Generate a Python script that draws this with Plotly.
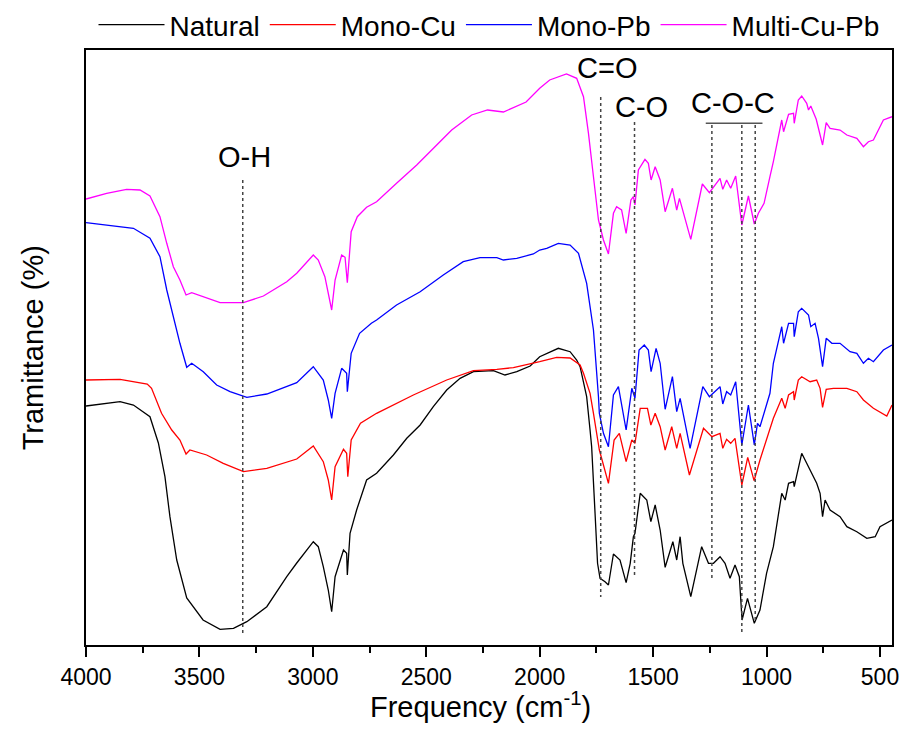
import plotly.graph_objects as go

FONT = "Liberation Sans, Arial, sans-serif"

# ---------------- data (wavenumber cm-1, transmittance in arbitrary offset units) -------------
nat_w = [4000, 3850, 3791, 3718, 3681, 3652, 3630, 3600, 3556, 3527, 3484, 3409, 3350, 3291, 3203,
         3115, 3071, 2998, 2976, 2954, 2932, 2917, 2902, 2865, 2851, 2848, 2836, 2807, 2763, 2719,
         2645, 2586, 2527, 2469, 2410, 2351, 2292, 2204, 2153, 2101, 2042, 2000, 1969, 1918, 1866,
         1837, 1822, 1807, 1793, 1778, 1771, 1756, 1745, 1734, 1712, 1697, 1675, 1646, 1619, 1601,
         1587, 1580, 1557, 1528, 1510, 1491, 1469, 1447, 1413, 1396, 1381, 1369, 1334, 1286, 1256,
         1234, 1205, 1183, 1161, 1139, 1120, 1108, 1084, 1054, 1029, 1000, 970, 933, 918, 903,
         881, 878, 845, 823, 800, 779, 764, 753, 742, 720, 676, 646, 602, 558, 521, 500, 447]
nat_t = [239, 243.3, 240, 228.3, 202, 168.3, 128.3, 85, 47, 38.3, 25, 15.7, 16.7, 23.3, 38.3,
         68.3, 82, 103.3, 98.3, 78.3, 55, 33.3, 68.3, 95, 91.7, 70, 111.7, 135, 165, 171.7,
         190, 206.7, 220, 238.3, 255, 266.7, 273.3, 274.3, 270, 273.3, 279, 288.3, 291.7, 296.7, 293.3,
         285, 278.3, 261.7, 248.3, 215, 198.3, 131.7, 81.7, 66.7, 63.3, 60, 91, 85, 62.3, 81.7,
         108.3, 111.7, 151.7, 145, 123.3, 140, 115, 77.7, 103.3, 85, 108.3, 81.7, 48.3, 98.3, 81.7,
         81.7, 88.3, 81.7, 66.7, 80, 68.3, 25, 46.7, 21.7, 35, 71.7, 98.3, 151.7, 145, 161.7,
         163.3, 158.3, 191.7, 181.7, 171.7, 161.7, 151.7, 128.3, 145, 135, 128.3, 118.3, 113.3, 106.7, 108.3, 118.3, 125]

cu_w = [4000, 3850, 3730, 3711, 3667, 3622, 3586, 3559, 3542, 3468, 3395, 3306, 3203, 3115, 3071,
        2998, 2976, 2954, 2932, 2917, 2902, 2865, 2851, 2846, 2831, 2790, 2719, 2557, 2410, 2292,
        2189, 2116, 2000, 1925, 1866, 1822, 1807, 1778, 1763, 1737, 1697, 1672, 1649, 1619, 1594,
        1580, 1557, 1525, 1510, 1491, 1469, 1447, 1418, 1396, 1381, 1340, 1278, 1241, 1205, 1193,
        1176, 1158, 1139, 1109, 1083, 1055, 1029, 985, 970, 933, 918, 903, 881, 878, 860,
        845, 808, 779, 764, 753, 737, 705, 646, 602, 573, 529, 470, 447]
cu_t = [265, 265.7, 261, 256.7, 231.7, 215, 205, 191, 195, 190, 181.7, 173.3, 176.7, 183.3, 186,
        199, 191.7, 183.3, 165, 145, 178.3, 195.7, 191.7, 168.3, 205, 221.7, 231.7, 250, 265, 274.3,
        275.7, 277.3, 283.3, 287.7, 287, 280, 271.7, 251.7, 231.7, 195, 161.7, 205, 211.7, 183.3, 205,
        201.7, 236.7, 236.7, 220, 231.7, 218.3, 195, 218.3, 196.7, 211.7, 170, 216.7, 208.3, 211.7, 196.7,
        205.7, 201.7, 206.7, 160, 187.7, 164.3, 185, 215, 226.7, 246.7, 236.7, 250, 253.3, 245, 265,
        268.3, 263.3, 265, 256.7, 237.7, 255.7, 256.7, 256.7, 253.3, 245, 236.7, 229, 240]

pb_w = [4000, 3880, 3791, 3718, 3674, 3644, 3615, 3586, 3556, 3534, 3483, 3424, 3365, 3291, 3203,
        3115, 3071, 2998, 2954, 2932, 2917, 2902, 2873, 2851, 2848, 2831, 2794, 2742, 2719, 2631,
        2527, 2425, 2337, 2263, 2189, 2160, 2101, 2028, 2000, 1969, 1918, 1866, 1829, 1793, 1763,
        1741, 1737, 1719, 1697, 1675, 1653, 1619, 1594, 1580, 1562, 1539, 1521, 1509, 1487, 1469,
        1447, 1415, 1396, 1381, 1337, 1281, 1252, 1205, 1193, 1176, 1158, 1136, 1109, 1080, 1054,
        1040, 1029, 985, 970, 933, 925, 903, 881, 878, 860, 845, 815, 805, 786, 771,
        753, 737, 712, 676, 632, 602, 573, 551, 529, 485, 447]
pb_t = [422.3, 419.3, 416.7, 406.7, 388.3, 355, 328.3, 301.7, 277.7, 281.7, 273.3, 260, 253.3, 247.7, 251,
        258.3, 262.3, 278.3, 265, 245, 226.7, 251.7, 276.7, 271.7, 253.3, 291.7, 311.7, 321.7, 325, 340,
        353.3, 370, 383.3, 387.3, 387.3, 385, 386.7, 391, 395, 396.7, 401.7, 400, 391.7, 361.7, 315,
        248.3, 231.7, 211.7, 198.3, 250, 258.3, 215, 256.7, 246.7, 295, 300, 295, 273.3, 296.7, 281.7,
        235.7, 268.3, 233.3, 246.7, 196.7, 258.3, 248.3, 258.3, 241, 253.3, 250, 263.3, 200, 240, 200,
        221.7, 218.3, 251.7, 281.7, 318.3, 301.7, 321.7, 321.7, 308.3, 333.3, 336.7, 330, 318.3, 321.7, 306.7,
        278.3, 306.7, 301.7, 301.7, 293.3, 291.7, 281.7, 286.7, 283.3, 295, 300]

mix_w = [4000, 3909, 3821, 3762, 3718, 3674, 3644, 3615, 3586, 3559, 3534, 3468, 3409, 3306, 3218,
         3115, 3071, 2998, 2976, 2947, 2917, 2902, 2873, 2858, 2848, 2831, 2804, 2763, 2719, 2631,
         2542, 2454, 2388, 2300, 2230, 2160, 2130, 2060, 2000, 1956, 1882, 1837, 1807, 1785, 1763,
         1741, 1719, 1697, 1675, 1661, 1639, 1619, 1598, 1587, 1580, 1565, 1536, 1521, 1509, 1491,
         1469, 1447, 1415, 1396, 1384, 1334, 1283, 1252, 1205, 1193, 1176, 1158, 1136, 1109, 1080,
         1054, 1036, 1011, 985, 970, 933, 925, 903, 881, 878, 860, 845, 823, 815, 805,
         781, 771, 753, 737, 720, 676, 646, 602, 573, 551, 529, 485, 447]
mix_t = [446, 451.7, 455.7, 455, 449, 428.3, 401.7, 378.3, 365, 350, 352.3, 346.7, 342.3, 342.3, 349,
         363.3, 371.7, 390, 385, 368.3, 335, 365, 390, 387.7, 362.3, 413.3, 428.3, 437.7, 443.3, 461.7,
         480, 500, 515, 530, 535, 533, 536, 543, 556.7, 565, 571, 566.7, 548.3, 511.7, 468.3,
         425, 405, 391, 431.7, 438.3, 435, 411.7, 445, 448.3, 440, 475, 485.7, 481.7, 465, 478.3,
         465, 433.3, 456.7, 435, 446.7, 405.7, 461, 452.3, 466.7, 455.7, 465, 456.7, 469, 420, 449,
         421, 431.7, 441.7, 468.3, 483.3, 525, 513.3, 530.7, 531.7, 521.7, 545, 549, 541.7, 535, 539,
         525.7, 516.7, 500, 522.3, 516.7, 515, 510, 506.7, 498.3, 503.3, 505, 525, 528.3]

series_names = ["Natural", "Mono-Cu", "Mono-Pb", "Multi-Cu-Pb"]
series_colors = ["#000000", "#ff0000", "#0000ff", "#ff00ff"]
series_w = [nat_w, cu_w, pb_w, mix_w]
series_t = [nat_t, cu_t, pb_t, mix_t]

# band markers
band_lines = [(3309, 465, 12), (1731, 548, 48), (1582, 523, 68),
              (1241, 520, 65), (1109, 520, 12), (1050, 520, 22)]
band_labels = [("O-H", 3300, 488), ("C=O", 1705, 577), ("C-O", 1550, 538), ("C-O-C", 1150, 542)]
coc_bar = (1268, 1018, 521.7)

x_ticks = [4000, 3500, 3000, 2500, 2000, 1500, 1000, 500]

fig = go.Figure()
for n, c, w, t in zip(series_names, series_colors, series_w, series_t):
    fig.add_trace(go.Scatter(x=w, y=t, mode="lines", name=n,
                             line=dict(color=c, width=1.3)))

shapes = []
for xw, y0, y1 in band_lines:
    shapes.append(dict(type="line", xref="x", yref="y", x0=xw, x1=xw, y0=y0, y1=y1,
                       line=dict(color="#444444", width=1.5, dash="dot")))
shapes.append(dict(type="line", xref="x", yref="y", x0=coc_bar[0], x1=coc_bar[1],
                   y0=coc_bar[2], y1=coc_bar[2], line=dict(color="#555555", width=1.5)))

annotations = []
for txt, xw, yv in band_labels:
    annotations.append(dict(text=txt, x=xw, y=yv, xref="x", yref="y", showarrow=False,
                            font=dict(family=FONT, size=29, color="black"),
                            xanchor="center", yanchor="middle"))
annotations.append(dict(text="Frequency (cm<sup>-1</sup>)", x=0.49, y=-0.1, xref="paper", yref="paper",
                        showarrow=False, xanchor="center", yanchor="middle",
                        font=dict(family=FONT, size=29, color="black")))
annotations.append(dict(text="Tramittance (%)", x=-0.066, y=0.5, xref="paper", yref="paper",
                        showarrow=False, xanchor="center", yanchor="middle", textangle=-90,
                        font=dict(family=FONT, size=29, color="black")))

fig.update_layout(
    width=902, height=740,
    margin=dict(l=86, r=10, t=50, b=95, autoexpand=False),
    paper_bgcolor="white", plot_bgcolor="white",
    font=dict(family=FONT, color="black"),
    shapes=shapes, annotations=annotations,
    showlegend=True,
    legend=dict(orientation="h", x=0.5, xanchor="center", y=1.042, yanchor="middle",
                font=dict(family=FONT, size=28, color="black"),
                itemwidth=66, tracegroupgap=0, bgcolor="rgba(0,0,0,0)"),
    xaxis=dict(range=[4000, 447], tickvals=x_ticks, ticktext=[str(v) for v in x_ticks],
               ticks="outside", ticklen=10, tickwidth=1.5, tickcolor="black",
               minor=dict(dtick=250, ticks="outside", ticklen=6, tickwidth=1.5, tickcolor="black"),
               showline=True, linewidth=2, linecolor="black", mirror=True,
               showgrid=False, zeroline=False, automargin=False,
               tickfont=dict(family=FONT, size=23, color="black")),
    xaxis2=dict(range=[4000, 447], overlaying="x", side="top", tickvals=x_ticks,
                ticks="inside", ticklen=5, tickwidth=1, tickcolor="black",
                minor=dict(dtick=250, ticks="inside", ticklen=4, tickwidth=1, tickcolor="black"),
                showticklabels=False, showline=False, showgrid=False, zeroline=False),
    yaxis=dict(range=[0, 595], showticklabels=False, ticks="", showgrid=False, zeroline=False,
               showline=True, linewidth=2, linecolor="black", mirror=True, automargin=False),
)

fig.write_html("out.html")
